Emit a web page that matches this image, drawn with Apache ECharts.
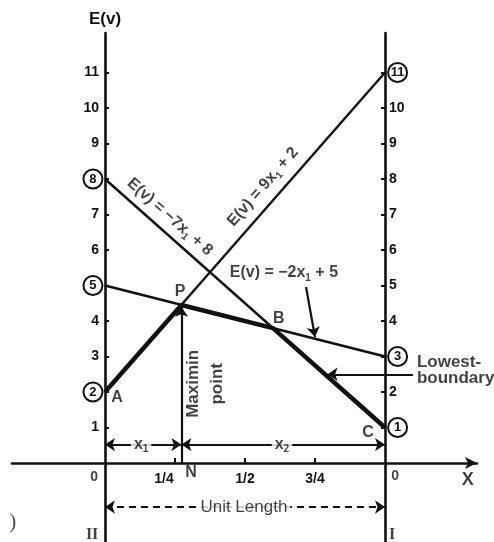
<!DOCTYPE html>
<html><head><meta charset="utf-8">
<script src="https://cdn.jsdelivr.net/npm/echarts@6/dist/echarts.min.js"></script>
<style>html,body{margin:0;padding:0;background:#fff}#c{width:494px;height:542px}</style>
</head><body><div id="c"></div>
<script>
// ---- data ----
const xTickValues = [0.25, 0.5, 0.75];
const xTickLabels = ['1/4', '1/2', '3/4'];
const yTickValues = [1, 2, 3, 4, 5, 6, 7, 8, 9, 10, 11];
const lineNine = [[0, 2], [1, 11]];      // E(v) = 9x1 + 2
const lineSeven = [[0, 8], [1, 1]];      // E(v) = -7x1 + 8
const lineTwo = [[0, 5], [1, 3]];        // E(v) = -2x1 + 5
const lowestBoundary = [[0, 2], [0.273, 4.45], [0.6, 3.8], [1, 1]];
const maximin = [0.273, 4.45];
const leftIntercepts = [8, 5, 2];
const rightIntercepts = [11, 3, 1];

// ---- style ----
const ink = '#111';
const FONT = '"Liberation Sans", Arial, sans-serif';
const SERIF = '"Liberation Serif", "Times New Roman", serif';
const eqRich = {
  t: { fontFamily: FONT, fontSize: 16, fontWeight: 'bold', color: ink, lineHeight: 20 },
  s: { fontFamily: FONT, fontSize: 10, fontWeight: 'bold', color: ink, lineHeight: 10, verticalAlign: 'bottom' }
};
function eq(pre, sub, post) { return '{t|' + pre + '}{s|' + sub + '}{t|' + post + '}'; }
function txt(x, y, text, opts) {
  return {
    value: [x, y],
    label: Object.assign({
      show: true, position: 'inside', formatter: text, color: ink,
      fontFamily: FONT, fontSize: 16, fontWeight: 'bold', align: 'center', verticalAlign: 'middle'
    }, opts || {})
  };
}

const labels = [
  txt(1.296, -0.48, 'X', { fontSize: 18 }),
  txt(-0.039, -0.39, '0', { fontSize: 14 }),
  txt(1.036, -0.36, '0', { fontSize: 14 }),
  txt(0.307, -0.28, 'N', { fontSize: 16 }),
  txt(0.268, 4.82, 'P'),
  txt(0.043, 1.83, 'A'),
  txt(0.621, 4.08, 'B'),
  txt(0.939, 0.87, 'C'),
  txt(0.232, 6.93, eq('E(v) = −7x', '1', ' + 8'), { rotate: -41.6, rich: eqRich }),
  txt(0.564, 7.78, eq('E(v) = 9x', '1', ' + 2'), { rotate: 48.8, rich: eqRich }),
  txt(0.639, 5.35, eq('E(v) = −2x', '1', ' + 5'), { rich: eqRich }),
  txt(0.357, 2.23, 'Maximin\npoint', { rotate: 90, lineHeight: 24, fontSize: 17 }),
  txt(0.129, 0.52, eq('x', '1', ''), { rich: eqRich, backgroundColor: '#fff', padding: [0, 3] }),
  txt(0.632, 0.52, eq('x', '2', ''), { rich: eqRich, backgroundColor: '#fff', padding: [0, 3] }),
  txt(0.496, -1.24, 'Unit Length', { fontSize: 17, fontWeight: 'normal', backgroundColor: '#fff', padding: [0, 3] }),
  txt(1.114, 2.62, 'Lowest-\nboundary', { align: 'left', lineHeight: 16, fontSize: 17 }),
  txt(-0.046, -2.03, 'II', { fontFamily: SERIF, fontSize: 16 }),
  txt(1.025, -2.03, 'I', { fontFamily: SERIF, fontSize: 16 }),
  txt(-0.329, -1.69, ')', { fontFamily: SERIF, fontSize: 20, fontWeight: 'normal' })
];

const ARR = 'arrow';
const arrows = [
  [{ coord: [maximin[0], 0], symbol: 'none' }, { coord: [maximin[0], maximin[1] - 0.05], symbol: ARR }],
  [{ coord: [0, 0.52], symbol: ARR }, { coord: [maximin[0], 0.52], symbol: ARR }],
  [{ coord: [maximin[0], 0.52], symbol: ARR }, { coord: [1, 0.52], symbol: ARR }],
  [{ coord: [0, -1.24], symbol: ARR, lineStyle: { type: [7, 5] } }, { coord: [1, -1.24], symbol: ARR }],
  [{ coord: [1.1, 2.5], symbol: 'none' }, { coord: [0.795, 2.5], symbol: ARR }],
  [{ coord: [0.718, 4.96], symbol: 'none' }, { coord: [0.75, 3.55], symbol: ARR }]
];

function xTickText(v) {
  for (let i = 0; i < xTickValues.length; i++) {
    if (Math.abs(Number(v) - xTickValues[i]) < 1e-6) return (i === 0 ? '{q|' : '{n|') + xTickLabels[i] + '}';
  }
  return '';
}
const tickRich = {
  q: { fontFamily: FONT, fontSize: 14, fontWeight: 'bold', color: ink, padding: [0, 22, 0, 0] },
  n: { fontFamily: FONT, fontSize: 14, fontWeight: 'bold', color: ink }
};

const thin = { color: ink, width: 2.4 };
const chart = echarts.init(document.getElementById('c'), null, { renderer: 'canvas' });
chart.setOption({
  animation: false,
  backgroundColor: '#fff',
  grid: { left: 12, right: 17, top: 33, bottom: 0, containLabel: false, outerBoundsMode: 'none' },
  xAxis: {
    type: 'value', min: -0.3321, max: 1.3286, position: 'bottom', offset: -79,
    splitLine: { show: false },
    axisLine: { onZero: false, symbol: ['none', 'arrow'], symbolSize: [9, 12], lineStyle: { color: ink, width: 2.6 } },
    axisTick: { customValues: xTickValues, inside: true, length: 5, lineStyle: { color: ink, width: 2 } },
    axisLabel: {
      show: true, customValues: xTickValues, margin: 9, color: ink, fontFamily: FONT, fontSize: 14, fontWeight: 'bold',
      formatter: xTickText, rich: tickRich
    }
  },
  yAxis: [{
    type: 'value', min: -2.225, max: 12.113, position: 'left', offset: -93,
    name: 'E(v)', nameLocation: 'end', nameGap: 5,
    nameTextStyle: { color: ink, fontFamily: FONT, fontSize: 17, fontWeight: 'bold', align: 'center', verticalAlign: 'bottom' },
    splitLine: { show: false },
    axisLine: { show: true, onZero: false, lineStyle: { color: ink, width: 2.6 } },
    axisTick: { show: true, customValues: yTickValues, inside: true, length: 4, lineStyle: { color: ink, width: 2 } },
    axisLabel: { customValues: yTickValues, margin: 6, color: ink, fontFamily: FONT, fontSize: 14, fontWeight: 'bold' }
  }, {
    type: 'value', min: -2.225, max: 12.113, position: 'right', offset: -92,
    splitLine: { show: false },
    axisLine: { show: true, onZero: false, lineStyle: { color: ink, width: 2.6 } },
    axisTick: { show: true, customValues: yTickValues, inside: true, length: 4, lineStyle: { color: ink, width: 2 } },
    axisLabel: { customValues: yTickValues, margin: 4, color: ink, fontFamily: FONT, fontSize: 14, fontWeight: 'bold' }
  }],
  series: [
    { type: 'line', data: lineNine, symbol: 'none', lineStyle: thin, z: 2 },
    { type: 'line', data: lineSeven, symbol: 'none', lineStyle: thin, z: 2 },
    { type: 'line', data: lineTwo, symbol: 'none', lineStyle: thin, z: 2 },
    { type: 'line', data: lowestBoundary, symbol: 'none', lineStyle: { color: ink, width: 4.5 }, z: 3 },
    {
      type: 'scatter', z: 5, symbol: 'circle', symbolSize: 19,
      itemStyle: { color: '#fff', borderColor: ink, borderWidth: 2, opacity: 1 },
      label: { show: true, position: 'inside', color: ink, fontFamily: FONT, fontSize: 13, fontWeight: 'bold' },
      data: leftIntercepts.map(v => ({ value: [-0.043, v], label: { formatter: String(v) } }))
        .concat(rightIntercepts.map(v => ({ value: [1.045, v], label: { formatter: String(v) } })))
    },
    {
      type: 'line', data: [], z: 4,
      markLine: {
        silent: true, animation: false, symbolSize: 10,
        label: { show: false },
        lineStyle: { color: ink, width: 2.2, type: 'solid' },
        emphasis: { disabled: true },
        data: arrows
      }
    },
    { type: 'scatter', z: 6, symbolSize: 0, silent: true, data: labels }
  ]
});
</script>
</body></html>
